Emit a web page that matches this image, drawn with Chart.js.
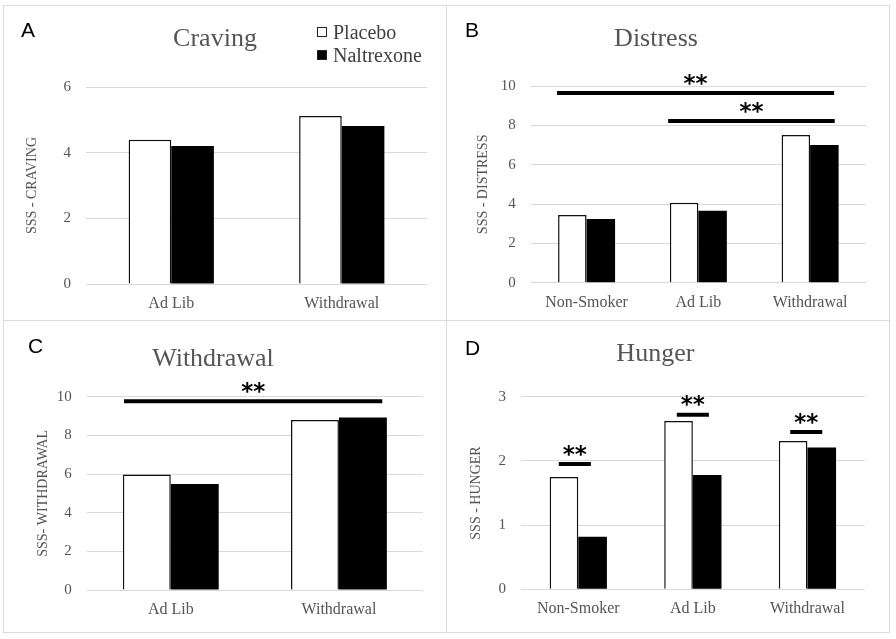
<!DOCTYPE html>
<html>
<head>
<meta charset="utf-8">
<script src="https://cdn.jsdelivr.net/npm/chart.js@4.4.1/dist/chart.umd.min.js"></script>
<style>
    body { margin: 0; background: #fff; }
    #page { position: relative; width: 896px; height: 639px; overflow: hidden; }
    .panel { position: absolute; }
    .panel canvas { display: block; }
    .rule { position: absolute; background: #dcdcdc; }
    .letter { position: absolute; font-family: "Liberation Sans", Arial, sans-serif; font-size: 21px; color: #000; line-height: 1; }
    .legend { position: absolute; font-family: "Liberation Serif", serif; font-size: 20px; color: #404040; line-height: 1; }
    .legend .box { position: absolute; width: 8px; height: 8px; border: 1.5px solid #222; }
    .legend span.txt { position: absolute; white-space: nowrap; }
</style>
</head>
<body>
<div id="page">
    <div class="panel" style="left:3px;top:5px;width:443px;height:315px"><canvas id="chartA" width="443" height="315"></canvas></div>
    <div class="panel" style="left:446px;top:5px;width:443px;height:315px"><canvas id="chartB" width="443" height="315"></canvas></div>
    <div class="panel" style="left:3px;top:320px;width:443px;height:312px"><canvas id="chartC" width="443" height="312"></canvas></div>
    <div class="panel" style="left:446px;top:320px;width:443px;height:312px"><canvas id="chartD" width="443" height="312"></canvas></div>

    <!-- panel frames -->
    <div class="rule" style="left:3px;top:5px;width:886px;height:1px"></div>
    <div class="rule" style="left:3px;top:320px;width:886px;height:1px"></div>
    <div class="rule" style="left:3px;top:632px;width:886px;height:1px"></div>
    <div class="rule" style="left:3px;top:5px;width:1px;height:628px"></div>
    <div class="rule" style="left:446px;top:5px;width:1px;height:628px"></div>
    <div class="rule" style="left:889px;top:5px;width:1px;height:628px"></div>

    <div class="letter" style="left:21px;top:19px">A</div>
    <div class="letter" style="left:465px;top:19px">B</div>
    <div class="letter" style="left:28px;top:335px">C</div>
    <div class="letter" style="left:465px;top:337px">D</div>

    <div class="legend">
        <div class="box" style="left:317px;top:27px;background:#fff"></div>
        <span class="txt" style="left:333px;top:22px">Placebo</span>
        <div class="box" style="left:317px;top:50px;background:#000"></div>
        <span class="txt" style="left:333px;top:45px">Naltrexone</span>
    </div>
</div>

<script>
// Categories
const twoGroups = ["Ad Lib", "Withdrawal"];
const threeGroups = ["Non-Smoker", "Ad Lib", "Withdrawal"];

// A - Craving
const cravingPlacebo = [4.39, 5.12];
const cravingNaltrexone = [4.2, 4.81];
const cravingTicks = [0, 2, 4, 6];

// B - Distress
const distressPlacebo = [3.44, 4.07, 7.51];
const distressNaltrexone = [3.24, 3.66, 7.0];
const distressTicks = [0, 2, 4, 6, 8, 10];
const distressSigFrom = [-0.265, 0.73];
const distressSigTo = [2.215, 2.22];
const distressSigY = [9.64, 8.22];

// C - Withdrawal
const withdrawalPlacebo = [5.98, 8.79];
const withdrawalNaltrexone = [5.48, 8.93];
const withdrawalTicks = [0, 2, 4, 6, 8, 10];
const withdrawalSigFrom = [-0.278];
const withdrawalSigTo = [1.258];
const withdrawalSigY = [9.76];

// D - Hunger
const hungerPlacebo = [1.75, 2.62, 2.31];
const hungerNaltrexone = [0.82, 1.78, 2.21];
const hungerTicks = [0, 1, 2, 3];
const hungerSigFrom = [-0.17, 0.86, 1.85];
const hungerSigTo = [0.11, 1.14, 2.13];
const hungerSigY = [1.95, 2.72, 2.45];

const GREY = "#555555";
const SERIF = "'Liberation Serif', 'Times New Roman', serif";

// Significance bars with "**" above them
const sigPlugin = {
    id: "sigBars",
    afterDatasetsDraw(chart, args, opts) {
        if (!opts.from) return;
        const { ctx, scales } = chart;
        ctx.save();
        ctx.strokeStyle = "#000";
        ctx.fillStyle = "#000";
        ctx.lineWidth = 4;
        ctx.font = "bold 23px 'DejaVu Sans', sans-serif";
        ctx.textAlign = "center";
        opts.from.forEach((f, i) => {
            const x1 = scales.x.getPixelForValue(f);
            const x2 = scales.x.getPixelForValue(opts.to[i]);
            const y = scales.y.getPixelForValue(opts.y[i]);
            ctx.beginPath();
            ctx.moveTo(x1, y);
            ctx.lineTo(x2, y);
            ctx.stroke();
            const m = ctx.measureText("**");
            const cy = y - 14;
            ctx.fillText("**", (x1 + x2) / 2, cy + (m.actualBoundingBoxAscent - m.actualBoundingBoxDescent) / 2);
        });
        ctx.restore();
    },
};

function makePanel(id, cfg) {
    const ctx = document.getElementById(id).getContext("2d");
    return new Chart(ctx, {
        type: "bar",
        data: {
            labels: cfg.labels,
            datasets: [
                {
                    label: "Placebo",
                    data: cfg.placebo,
                    backgroundColor: "#fff",
                    borderColor: "#111",
                    borderWidth: 1.5,
                },
                {
                    label: "Naltrexone",
                    data: cfg.naltrexone,
                    backgroundColor: "#000",
                    borderColor: "#000",
                    borderWidth: 0,
                },
            ],
        },
        options: {
            responsive: false,
            animation: false,
            categoryPercentage: cfg.catPct,
            barPercentage: 1.0,
            layout: { padding: { left: 0, right: cfg.padRight, top: 0, bottom: 0 } },
            plugins: {
                legend: { display: false },
                tooltip: { enabled: false },
                title: {
                    display: true,
                    text: cfg.title,
                    color: GREY,
                    font: { family: SERIF, size: 26, weight: "normal" },
                    padding: { top: cfg.titleTop, bottom: cfg.titleBottom },
                },
                sigBars: cfg.sig || {},
            },
            scales: {
                x: {
                    grid: { display: false, drawTicks: false },
                    border: { display: false },
                    ticks: { color: GREY, font: { family: SERIF, size: 16 }, padding: 10, maxRotation: 0 },
                    afterFit: (axis) => { axis.height = cfg.xHeight; },
                },
                y: {
                    min: 0,
                    max: cfg.ticks[cfg.ticks.length - 1],
                    afterBuildTicks: (axis) => { axis.ticks = cfg.ticks.map((v) => ({ value: v })); },
                    grid: { color: "#d9d9d9", lineWidth: 1, drawTicks: false },
                    border: { display: false },
                    ticks: { color: GREY, font: { family: SERIF, size: 15 }, padding: 15 },
                    title: {
                        display: true,
                        text: cfg.yTitle,
                        color: GREY,
                        font: { family: SERIF, size: 14 },
                        padding: { top: cfg.yTitlePad, bottom: 0 },
                    },
                    afterFit: (axis) => { axis.width = cfg.yWidth; },
                },
            },
        },
        plugins: [sigPlugin],
    });
}

document.addEventListener("DOMContentLoaded", () => {
    makePanel("chartA", {
        labels: twoGroups, placebo: cravingPlacebo, naltrexone: cravingNaltrexone,
        ticks: cravingTicks, title: "Craving", yTitle: "SSS - CRAVING",
        catPct: 0.5, padRight: 19, yWidth: 83, xHeight: 36, titleTop: 18.4, titleBottom: 32.4, yTitlePad: 20.6,
    });
    makePanel("chartB", {
        labels: threeGroups, placebo: distressPlacebo, naltrexone: distressNaltrexone,
        ticks: distressTicks, title: "Distress", yTitle: "SSS - DISTRESS",
        catPct: 0.51, padRight: 23, yWidth: 84.7, xHeight: 37.3, titleTop: 18.4, titleBottom: 31.4, yTitlePad: 28.6,
        sig: { from: distressSigFrom, to: distressSigTo, y: distressSigY },
    });
    makePanel("chartC", {
        labels: twoGroups, placebo: withdrawalPlacebo, naltrexone: withdrawalNaltrexone,
        ticks: withdrawalTicks, title: "Withdrawal", yTitle: "SSS- WITHDRAWAL",
        catPct: 0.57, padRight: 23, yWidth: 83.7, xHeight: 42, titleTop: 23.4, titleBottom: 22.1, yTitlePad: 31.6,
        sig: { from: withdrawalSigFrom, to: withdrawalSigTo, y: withdrawalSigY },
    });
    makePanel("chartD", {
        labels: threeGroups, placebo: hungerPlacebo, naltrexone: hungerNaltrexone,
        ticks: hungerTicks, title: "Hunger", yTitle: "SSS - HUNGER",
        catPct: 0.5, padRight: 24.3, yWidth: 75, xHeight: 42.7, titleTop: 18.9, titleBottom: 26.6, yTitlePad: 21.6,
        sig: { from: hungerSigFrom, to: hungerSigTo, y: hungerSigY },
    });
});
</script>
</body>
</html>
